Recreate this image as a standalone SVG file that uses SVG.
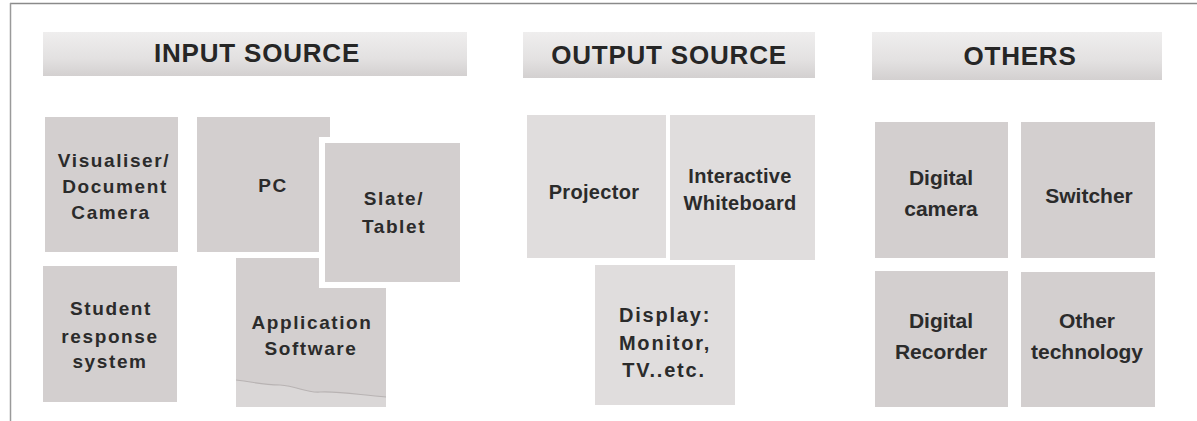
<svg xmlns="http://www.w3.org/2000/svg" width="1197" height="421" viewBox="0 0 1197 421">
<defs>
<linearGradient id="hdr" x1="0" y1="0" x2="0" y2="1">
<stop offset="0" stop-color="#efeeee"/>
<stop offset="0.6" stop-color="#e3e1e1"/>
<stop offset="1" stop-color="#d3d0d0"/>
</linearGradient>
<style>
.hd{fill:url(#hdr);}
.bx{fill:#d3cfcf;}
.bl{fill:#e0dddd;}
.ht{font-family:"Liberation Sans",Arial,sans-serif;font-weight:bold;font-size:26px;letter-spacing:0.8px;fill:#262626;text-anchor:middle;}
.ti{font-family:"Liberation Sans",Arial,sans-serif;font-weight:bold;font-size:19px;letter-spacing:1.6px;fill:#2b2b2b;text-anchor:middle;}
.to{font-family:"Liberation Sans",Arial,sans-serif;font-weight:bold;font-size:20px;letter-spacing:0.3px;fill:#2b2b2b;text-anchor:middle;}
.td{font-family:"Liberation Sans",Arial,sans-serif;font-weight:bold;font-size:20px;letter-spacing:1.8px;fill:#2b2b2b;text-anchor:middle;}
.tr{font-family:"Liberation Sans",Arial,sans-serif;font-weight:bold;font-size:21px;fill:#2b2b2b;text-anchor:middle;}
</style>
</defs>
<rect x="0" y="0" width="1197" height="421" fill="#ffffff"/>
<g id="frame">
<line x1="10" y1="3.5" x2="1197" y2="3.5" stroke="#8a8a8a" stroke-width="1.5"/>
<line x1="10.5" y1="3" x2="10.5" y2="421" stroke="#9a9a9a" stroke-width="1.5"/>
</g>
<g id="connectors"></g>
<g id="hdr-input">
<rect class="hd" x="43" y="32" width="424" height="44"/>
<text class="ht" x="257" y="62">INPUT SOURCE</text>
</g>
<g id="hdr-output">
<rect class="hd" x="523" y="32" width="292" height="46"/>
<text class="ht" x="669" y="64">OUTPUT SOURCE</text>
</g>
<g id="hdr-others">
<rect class="hd" x="872" y="32" width="290" height="48"/>
<text class="ht" x="1020" y="65">OTHERS</text>
</g>
<g id="n-visualiser">
<rect class="bx" x="45" y="117" width="133" height="135"/>
<text class="ti" x="114" y="167">Visualiser/</text>
<text class="ti" x="115" y="193">Document</text>
<text class="ti" x="111" y="219">Camera</text>
</g>
<g id="n-pc">
<rect class="bx" x="197" y="117" width="133" height="135"/>
<text class="ti" x="273" y="192">PC</text>
</g>
<g id="n-application">
<rect class="bx" x="236" y="258" width="150" height="149"/>
<path d="M236 380 C255 382 262 385 280 385 C298 386 305 393 320 392 C340 391 360 395 386 397 L386 407 L236 407 Z" fill="#dad7d7"/>
<path d="M236 380 C255 382 262 385 280 385 C298 386 305 393 320 392 C340 391 360 395 386 397" fill="none" stroke="#b8b3b3" stroke-width="1.2"/>
<text class="ti" x="312" y="329">Application</text>
<text class="ti" x="311" y="355">Software</text>
</g>
<g id="n-slate">
<rect x="319" y="137" width="147" height="151" fill="#ffffff"/>
<rect class="bx" x="325" y="143" width="135" height="139"/>
<text class="ti" x="394" y="205">Slate/</text>
<text class="ti" x="394" y="233">Tablet</text>
</g>
<g id="n-student">
<rect class="bx" x="43" y="266" width="134" height="136"/>
<text class="ti" x="111" y="315">Student</text>
<text class="ti" x="110" y="343">response</text>
<text class="ti" x="110" y="368">system</text>
</g>
<g id="n-projector">
<rect class="bl" x="527" y="115" width="139" height="143"/>
<text class="to" x="594" y="199">Projector</text>
</g>
<g id="n-whiteboard">
<rect class="bl" x="670" y="115" width="145" height="145"/>
<text class="to" x="740" y="183">Interactive</text>
<text class="to" x="740" y="210">Whiteboard</text>
</g>
<g id="n-display">
<rect class="bl" x="595" y="265" width="140" height="140"/>
<text class="td" x="665" y="322">Display:</text>
<text class="td" x="665" y="350">Monitor,</text>
<text class="td" x="664" y="377">TV..etc.</text>
</g>
<g id="n-digicam">
<rect class="bx" x="875" y="122" width="133" height="136"/>
<text class="tr" x="941" y="185">Digital</text>
<text class="tr" x="941" y="216">camera</text>
</g>
<g id="n-switcher">
<rect class="bx" x="1021" y="122" width="134" height="136"/>
<text class="tr" x="1089" y="203">Switcher</text>
</g>
<g id="n-recorder">
<rect class="bx" x="875" y="271" width="133" height="136"/>
<text class="tr" x="941" y="328">Digital</text>
<text class="tr" x="941" y="359">Recorder</text>
</g>
<g id="n-othertech">
<rect class="bx" x="1021" y="272" width="134" height="135"/>
<text class="tr" x="1087" y="328">Other</text>
<text class="tr" x="1087" y="359">technology</text>
</g>
</svg>
